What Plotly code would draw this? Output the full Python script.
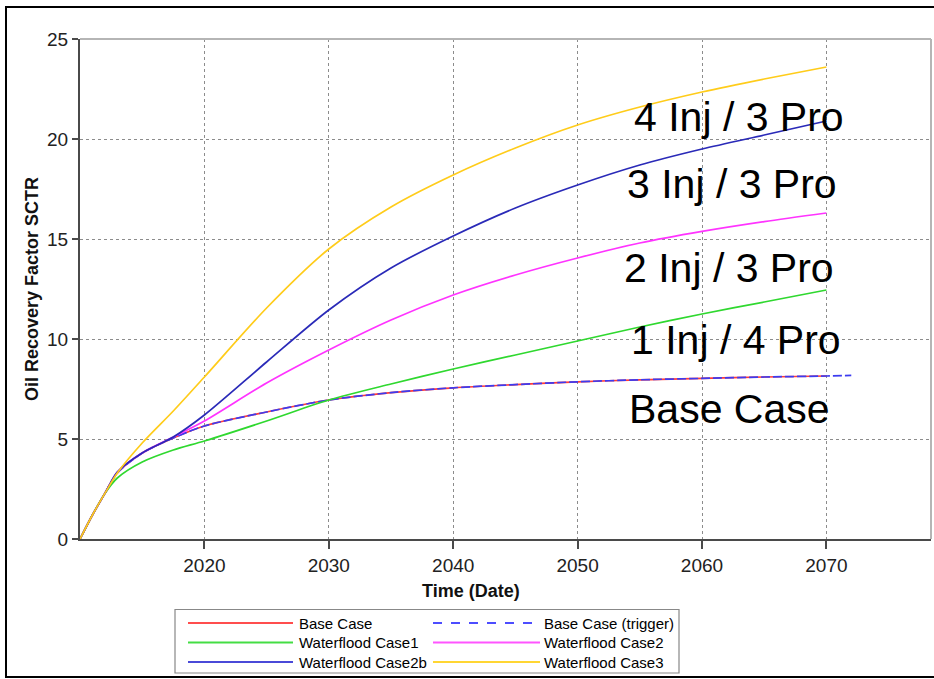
import plotly.graph_objects as go

# ---------------- data ----------------
years = [2010, 2011, 2012, 2013, 2015, 2017.5, 2020, 2025, 2030, 2035, 2040, 2045, 2050, 2055, 2060, 2065, 2070]
base_case = [0, 1.2, 2.28, 3.3, 4.3, 5.05, 5.65, 6.35, 6.95, 7.32, 7.56, 7.72, 7.86, 7.96, 8.03, 8.1, 8.15]
trigger_years = [2012, 2013, 2015, 2017.5, 2020, 2025, 2030, 2035, 2040, 2045, 2050, 2055, 2060, 2065, 2070, 2072]
base_trigger = [2.28, 3.3, 4.3, 5.05, 5.65, 6.35, 6.95, 7.32, 7.56, 7.72, 7.86, 7.96, 8.03, 8.1, 8.15, 8.18]
waterflood_case1 = [0, 1.2, 2.28, 3.05, 3.85, 4.45, 4.9, 5.9, 6.95, 7.75, 8.5, 9.2, 9.9, 10.6, 11.25, 11.85, 12.45]
waterflood_case2 = [0, 1.2, 2.28, 3.35, 4.3, 5.1, 5.9, 7.8, 9.45, 10.95, 12.2, 13.2, 14.05, 14.8, 15.38, 15.87, 16.3]
waterflood_case2b = [0, 1.2, 2.28, 3.35, 4.3, 5.1, 6.2, 8.85, 11.45, 13.55, 15.15, 16.55, 17.7, 18.7, 19.5, 20.2, 20.9]
waterflood_case3 = [0, 1.2, 2.28, 3.3, 4.8, 6.4, 8.1, 11.55, 14.5, 16.6, 18.2, 19.55, 20.7, 21.6, 22.35, 23.0, 23.6]

series_names = ["Base Case", "Base Case (trigger)", "Waterflood Case1",
                "Waterflood Case2", "Waterflood Case2b", "Waterflood Case3"]
series_colors = ["#ff3b3b", "#3c3cf0", "#2fd82f", "#ff33ff", "#2a2ab8", "#ffcc1a"]
legend_colors = ["#ff4d4d", "#4d4dff", "#44dd44", "#ff55ff", "#4a4ad8", "#ffd633"]
series_dash = ["solid", "9px,3px", "solid", "solid", "solid", "solid"]

x_ticks = [2020, 2030, 2040, 2050, 2060, 2070]
y_ticks = [0, 5, 10, 15, 20, 25]

case_labels = ["4 Inj / 3 Pro", "3 Inj / 3 Pro", "2 Inj / 3 Pro", "1 Inj / 4 Pro", "Base Case"]
case_label_pos = [(2063.0, 21.1), (2062.4, 17.75), (2062.2, 13.55), (2062.7, 9.95), (2062.2, 6.5)]

x_title = "Time (Date)"
y_title = "Oil Recovery Factor SCTR"

# ---------------- layout geometry ----------------
W, H = 934, 679
ML, MR, MT, MB = 80, 3, 39, 140
PW = W - ML - MR
PH = H - MT - MB
FONT = "Liberation Sans, Arial, sans-serif"


def pxx(x):
    return (x - ML) / PW


def pxy(y):
    return (H - MB - y) / PH


fig = go.Figure()
xs_list = [years, trigger_years, years, years, years, years]
ys_list = [base_case, base_trigger, waterflood_case1, waterflood_case2, waterflood_case2b, waterflood_case3]
for name, xs, ys, col, dash in zip(series_names, xs_list, ys_list, series_colors, series_dash):
    fig.add_trace(go.Scatter(
        x=xs, y=ys, name=name, mode="lines",
        line=dict(color=col, width=1.7, dash=dash, shape="spline", smoothing=0.8),
        showlegend=False,
    ))

shapes = []
# outer frame (right side runs off the canvas as in the reference)
shapes.append(dict(type="rect", xref="paper", yref="paper",
                   x0=pxx(6), x1=pxx(937), y0=pxy(677), y1=pxy(7),
                   line=dict(color="black", width=2), layer="below"))
# top and right plot borders (light grey)
shapes.append(dict(type="line", xref="paper", yref="paper", x0=0, x1=1, y0=1, y1=1,
                   line=dict(color="#b5b5b5", width=2)))
shapes.append(dict(type="line", xref="paper", yref="paper", x0=1, x1=1, y0=0, y1=1,
                   line=dict(color="#b5b5b5", width=2)))

annotations = []
for txt, (ax, ay) in zip(case_labels, case_label_pos):
    annotations.append(dict(x=ax, y=ay, xref="x", yref="y", text=txt, showarrow=False,
                            font=dict(family=FONT, size=41, color="black"),
                            xanchor="center", yanchor="middle"))

# axis titles
annotations.append(dict(x=pxx(471), y=pxy(591), xref="paper", yref="paper", text="<b>%s</b>" % x_title,
                        showarrow=False, font=dict(family=FONT, size=18, color="#111"),
                        xanchor="center", yanchor="middle"))
annotations.append(dict(x=pxx(32), y=pxy(289), xref="paper", yref="paper", text="<b>%s</b>" % y_title,
                        showarrow=False, textangle=-90, font=dict(family=FONT, size=18, color="#111"),
                        xanchor="center", yanchor="middle"))

# legend box (drawn manually in two columns)
leg_box = (175, 609.5, 679, 673)
shapes.append(dict(type="rect", xref="paper", yref="paper",
                   x0=pxx(leg_box[0]), x1=pxx(leg_box[2]), y0=pxy(leg_box[3]), y1=pxy(leg_box[1]),
                   line=dict(color="#888", width=1.2), fillcolor="white"))
col_line_x = [(188, 293), (433, 540)]
col_text_x = [297, 542]
row_y = [623, 642.5, 662]
for i, name in enumerate(series_names):
    r, c = divmod(i, 2)
    x0, x1 = col_line_x[c]
    shapes.append(dict(type="line", xref="paper", yref="paper",
                       x0=pxx(x0), x1=pxx(x1), y0=pxy(row_y[r]), y1=pxy(row_y[r]),
                       line=dict(color=legend_colors[i], width=1.8,
                                 dash="dash" if series_dash[i] != "solid" else "solid")))
    annotations.append(dict(x=pxx(col_text_x[c]), y=pxy(row_y[r]), xref="paper", yref="paper",
                            text=name, showarrow=False, xanchor="left", yanchor="middle",
                            font=dict(family=FONT, size=15, color="black")))

axis_common = dict(showline=True, linecolor="#4a4a4a", linewidth=2,
                   ticks="outside", tickcolor="#4a4a4a", tickwidth=2,
                   showgrid=True, gridcolor="#8c8c8c", griddash="dot", gridwidth=1,
                   zeroline=False, tickfont=dict(family=FONT, size=19, color="#222"))

fig.update_layout(
    width=W, height=H,
    margin=dict(l=ML, r=MR, t=MT, b=MB),
    paper_bgcolor="white", plot_bgcolor="white",
    xaxis=dict(range=[2010, 2010 + PW / 12.44], tickvals=x_ticks, ticktext=[str(t) for t in x_ticks],
               ticklen=8, **axis_common),
    yaxis=dict(range=[0, 25], tickvals=y_ticks, ticklen=6, **axis_common),
    shapes=shapes,
    annotations=annotations,
    showlegend=False,
)

fig.write_html("out.html", config={"displayModeBar": False},
               post_script="document.body.style.margin='0px';document.body.style.overflow='hidden';")
